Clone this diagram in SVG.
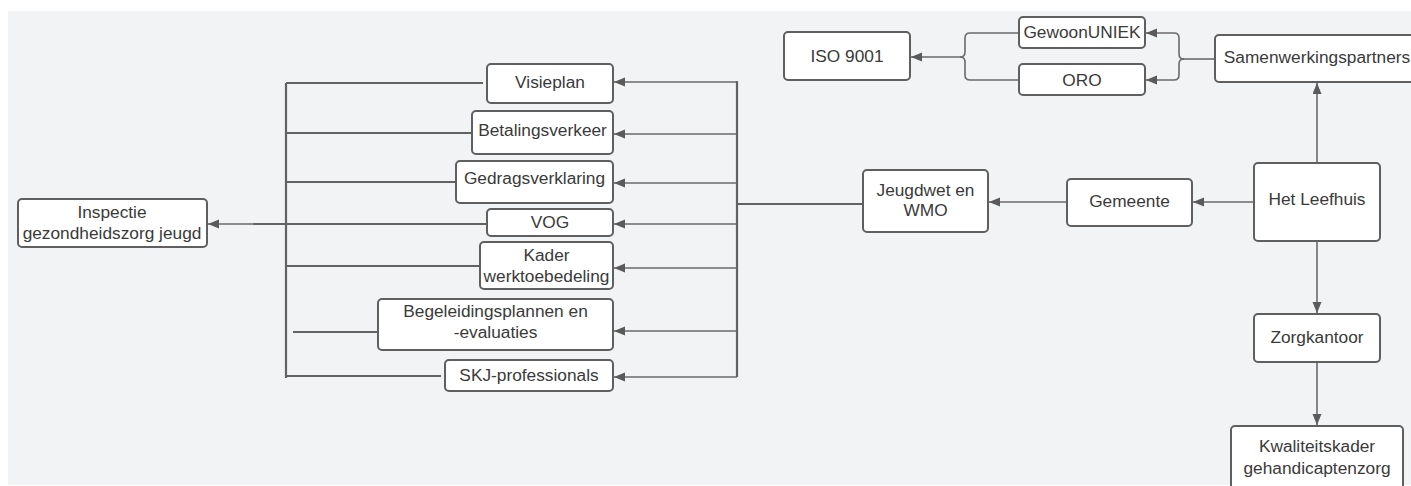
<svg xmlns="http://www.w3.org/2000/svg" width="1411" height="486" viewBox="0 0 1411 486">
<style>
.bx{fill:#ffffff;stroke:#5f5f5f;stroke-width:2}
.t{font-family:"Liberation Sans",Arial,sans-serif;font-size:17.3px;fill:#3a3a3a;text-anchor:middle}
.ln{fill:none;stroke:#6a6a6a;stroke-width:1.6}
.bus{fill:none;stroke:#626262;stroke-width:2.2}
.ar{fill:none;stroke:#6a6a6a;stroke-width:1.6;marker-end:url(#ah)}
</style>
<defs>
<marker id="ah" markerUnits="userSpaceOnUse" markerWidth="12" markerHeight="10" refX="11" refY="4.5" orient="auto">
<path d="M0,0 L11,4.5 L0,9 z" fill="#5a5a5a"/>
</marker>
</defs>
<rect x="0" y="0" width="1411" height="486" fill="#ffffff"/>
<rect x="8" y="11" width="1403" height="474" fill="#f2f3f5"/>

<g id="connectors">
<!-- left bus -->
<path class="bus" d="M286 83 V378"/>
<path class="bus" d="M286 83 H483"/>
<path class="bus" d="M286 133 H472"/>
<path class="bus" d="M286 182 H456"/>
<path class="bus" d="M253 224 H487"/>
<path class="bus" d="M286 266 H480"/>
<path class="bus" d="M293 332 H378"/>
<path class="bus" d="M286 376 H441"/>
<path class="ar" d="M254 224 H208"/>
<!-- right bus -->
<path class="bus" d="M737 81 V377"/>
<path class="bus" d="M737 204 H863"/>
<path class="ar" d="M737 82 H614"/>
<path class="ar" d="M737 134 H614"/>
<path class="ar" d="M737 183 H614"/>
<path class="ar" d="M737 224 H614"/>
<path class="ar" d="M737 268 H614"/>
<path class="ar" d="M737 331 H614"/>
<path class="ar" d="M737 377 H614"/>
<!-- main chain -->
<path class="ar" d="M1067 202 H989"/>
<path class="ar" d="M1254 202 H1193"/>
<path class="ar" d="M1317 163 V83"/>
<path class="ar" d="M1317 241 V313"/>
<path class="ar" d="M1317 362 V425"/>
<!-- braces -->
<path class="ar" d="M1019 33 H970 Q965 33 965 38 V52 Q965 57 960 57 H911"/>
<path class="ln" d="M1019 80 H970 Q965 80 965 75 V62 Q965 57 960 57"/>
<path class="ln" d="M1215 59 H1184"/>
<path class="ar" d="M1184 59 Q1179 59 1179 54 V38 Q1179 33 1174 33 H1146"/>
<path class="ar" d="M1184 59 Q1179 59 1179 64 V75 Q1179 80 1174 80 H1146"/>
</g>

<g id="inspectie">
<rect class="bx" x="18" y="199" width="189" height="48" rx="4"/>
<text class="t" x="112" y="218">Inspectie</text>
<text class="t" x="112" y="239">gezondheidszorg jeugd</text>
</g>
<g id="visieplan">
<rect class="bx" x="487" y="64" width="126" height="39" rx="4"/>
<text class="t" x="550" y="88">Visieplan</text>
</g>
<g id="betalingsverkeer">
<rect class="bx" x="472" y="111" width="141" height="43" rx="4"/>
<text class="t" x="542.5" y="136">Betalingsverkeer</text>
</g>
<g id="gedragsverklaring">
<rect class="bx" x="456" y="161" width="157" height="42" rx="4"/>
<text class="t" x="534.5" y="184">Gedragsverklaring</text>
</g>
<g id="vog">
<rect class="bx" x="487" y="209" width="126" height="27" rx="4"/>
<text class="t" x="550" y="228">VOG</text>
</g>
<g id="kader">
<rect class="bx" x="480" y="242" width="133" height="47" rx="4"/>
<text class="t" x="546.5" y="261">Kader</text>
<text class="t" x="546.5" y="282">werktoebedeling</text>
</g>
<g id="begeleiding">
<rect class="bx" x="378" y="299" width="235" height="51" rx="4"/>
<text class="t" x="495.5" y="317">Begeleidingsplannen en</text>
<text class="t" x="495.5" y="338">-evaluaties</text>
</g>
<g id="skj">
<rect class="bx" x="445" y="360" width="168" height="31" rx="4"/>
<text class="t" x="529" y="381">SKJ-professionals</text>
</g>
<g id="jeugdwet">
<rect class="bx" x="863" y="170" width="125" height="62" rx="4"/>
<text class="t" x="925.5" y="196">Jeugdwet en</text>
<text class="t" x="925.5" y="216">WMO</text>
</g>
<g id="gemeente">
<rect class="bx" x="1067" y="179" width="125" height="47" rx="4"/>
<text class="t" x="1129.5" y="207">Gemeente</text>
</g>
<g id="leefhuis">
<rect class="bx" x="1254" y="163" width="126" height="78" rx="4"/>
<text class="t" x="1317" y="205">Het Leefhuis</text>
</g>
<g id="samenwerkingspartners">
<rect class="bx" x="1215" y="35" width="204" height="47" rx="4"/>
<text class="t" x="1317" y="63">Samenwerkingspartners</text>
</g>
<g id="gewoonuniek">
<rect class="bx" x="1019" y="17" width="126" height="31" rx="4"/>
<text class="t" x="1082" y="38">GewoonUNIEK</text>
</g>
<g id="oro">
<rect class="bx" x="1019" y="64" width="126" height="31" rx="4"/>
<text class="t" x="1082" y="86">ORO</text>
</g>
<g id="iso">
<rect class="bx" x="784" y="32" width="126" height="48" rx="4"/>
<text class="t" x="847" y="62">ISO 9001</text>
</g>
<g id="zorgkantoor">
<rect class="bx" x="1254" y="314" width="126" height="48" rx="4"/>
<text class="t" x="1317" y="343">Zorgkantoor</text>
</g>
<g id="kwaliteitskader">
<rect class="bx" x="1231" y="426" width="172" height="66" rx="4"/>
<text class="t" x="1317" y="452">Kwaliteitskader</text>
<text class="t" x="1317" y="474">gehandicaptenzorg</text>
</g>
</svg>
